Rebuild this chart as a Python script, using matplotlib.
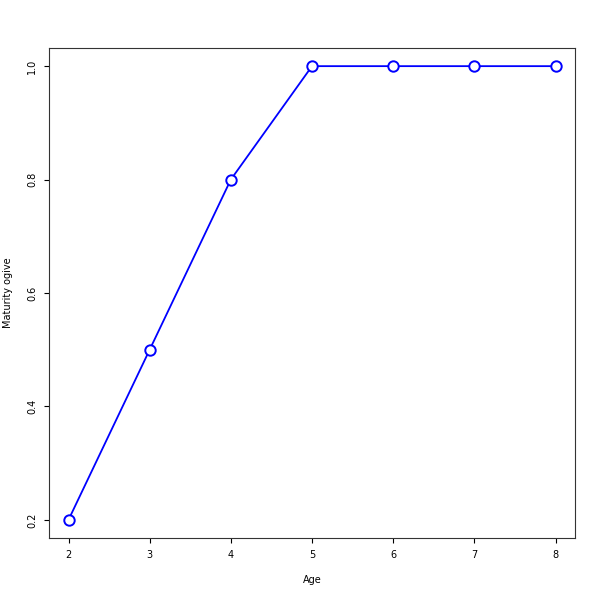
import matplotlib.pyplot as plt

# maturity ogive by age
ages = [2, 3, 4, 5, 6, 7, 8]
maturity = [0.2, 0.5, 0.8, 1.0, 1.0, 1.0, 1.0]

fig = plt.figure(figsize=(6, 6), dpi=100)
ax = fig.add_axes([0.0817, 0.1033, 0.8766, 0.8167])

ax.plot(ages, maturity, color="blue", linewidth=1.3, marker="o",
        markersize=7.5, markerfacecolor="white", markeredgecolor="blue",
        markeredgewidth=1.4)

ax.set_xlim(1.76, 8.24)
ax.set_ylim(0.168, 1.032)
ax.set_xticks(ages)
ax.set_yticks([0.2, 0.4, 0.6, 0.8, 1.0])
ax.set_yticklabels(["0.2", "0.4", "0.6", "0.8", "1.0"], rotation=90, va="center")
ax.tick_params(labelsize=7, length=3.6, width=0.8, pad=5)
for s in ax.spines.values():
    s.set_color("#333333")
    s.set_linewidth(0.8)

ax.set_xlabel("Age", fontsize=7)
ax.set_ylabel("Maturity ogive", fontsize=7)
ax.xaxis.set_label_coords(0.5, -0.0857)
ax.yaxis.set_label_coords(-0.078, 0.5)
ax.xaxis.label.set_va("center")
ax.yaxis.label.set_va("center")

fig.savefig("out.png", dpi=100)
